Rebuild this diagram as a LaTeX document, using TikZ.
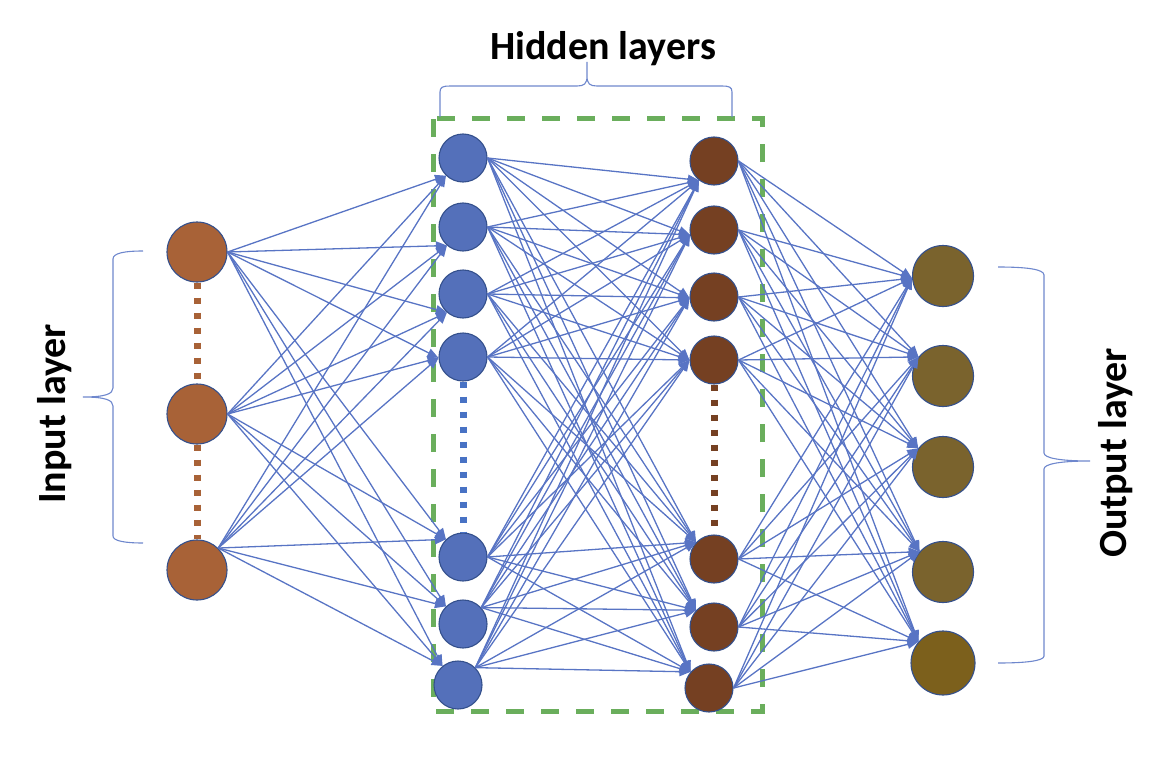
\documentclass[tikz,border=0pt]{standalone}
\usepackage{fontspec}
\setmainfont{Carlito}
\usetikzlibrary{arrows.meta}
\definecolor{inc}{RGB}{168,98,55}
\definecolor{hbc}{RGB}{84,112,186}
\definecolor{hbdot}{RGB}{72,114,196}
\definecolor{hrc}{RGB}{117,64,34}
\definecolor{outc}{RGB}{122,99,45}
\definecolor{outc2}{RGB}{124,96,28}
\definecolor{rimc}{RGB}{52,80,140}
\definecolor{edgec}{RGB}{88,116,196}
\definecolor{grn}{RGB}{106,174,92}
\definecolor{bracec}{RGB}{110,135,205}
\begin{document}
\begin{tikzpicture}[x=1pt,y=-1pt,
  neuron/.style={circle,draw=rimc,line width=1.1pt,inner sep=0pt},
  innode/.style={neuron,fill=inc,minimum size=60pt},
  hanode/.style={neuron,fill=hbc,minimum size=48pt},
  hbnode/.style={neuron,fill=hrc,minimum size=48pt},
  onode/.style={neuron,fill=outc,minimum size=61pt},
  link/.style={draw=edgec,line width=1.3pt,-{Triangle[length=11pt,width=9pt]}},
  dotline/.style={line width=7pt,dash pattern=on 6pt off 9pt},
  frame/.style={draw=grn,line width=5pt,dash pattern=on 18pt off 17pt},
  bracepath/.style={draw=bracec,line width=1.1pt},
  lbl/.style={font=\fontsize{40}{48}\selectfont\bfseries,inner sep=0pt}]
\useasboundingbox (0,0) rectangle (1153,765);

% dashed frame around hidden layers
\draw[frame] (433,119) rectangle (762,711);

% input layer
\node[innode] (in-1) at (197,252) {};
\node[innode] (in-2) at (197,414) {};
\node[innode] (in-3) at (197,570) {};

% hidden layer 1
\node[hanode] (ha-1) at (463,158) {};
\node[hanode] (ha-2) at (463,227) {};
\node[hanode] (ha-3) at (463,294) {};
\node[hanode] (ha-4) at (463,357) {};
\node[hanode] (ha-5) at (463,557) {};
\node[hanode] (ha-6) at (463,624) {};
\node[hanode] (ha-7) at (458,685) {};

% hidden layer 2
\node[hbnode] (hb-1) at (714,161) {};
\node[hbnode] (hb-2) at (714,230) {};
\node[hbnode] (hb-3) at (714,297) {};
\node[hbnode] (hb-4) at (714,360) {};
\node[hbnode] (hb-5) at (714,559) {};
\node[hbnode] (hb-6) at (714,627) {};
\node[hbnode] (hb-7) at (709,688) {};

% output layer
\node[onode] (out-1) at (943,276) {};
\node[onode] (out-2) at (943,376) {};
\node[onode] (out-3) at (943,467) {};
\node[onode] (out-4) at (943,572) {};
\node[onode,fill=outc2,minimum size=64pt] (out-5) at (943,663) {};

% dotted continuation lines
\draw[dotline,inc] (in-1.south) -- (in-2.north);
\draw[dotline,inc] (in-2.south) -- (in-3.north);
\draw[dotline,hbdot] (ha-4.south) -- (ha-5.north);
\draw[dotline,hrc] (hb-4.south) -- (hb-5.north);

% connections
\foreach \i/\ao in {1/0,2/0,3/46}
  \foreach \j/\ai in {1/226,2/229,3/229,4/182,5/134,6/134,7/129}
    \draw[link] (in-\i.\ao) -- (ha-\j.\ai);
\foreach \i/\ao in {1/0,2/0,3/0,4/0,5/0,6/42,7/45}
  \foreach \j/\ai in {1/232,2/191,3/182,4/180,5/137,6/137,7/139}
    \draw[link] (ha-\i.\ao) -- (hb-\j.\ai);
\foreach \i in {1,...,7}
  \foreach \j/\ai in {1/184,2/142,3/143,4/139,5/139}
    \draw[link] (hb-\i.0) -- (out-\j.\ai);

% braces
\draw[bracepath] (440,117) -- (440,92) .. controls (440,87) and (443,86) .. (450,86)
  -- (577,86) .. controls (584,86) and (587,84) .. (587,76) -- (587,62)
  -- (587,76) .. controls (587,84) and (590,86) .. (597,86)
  -- (722,86) .. controls (729,86) and (732,87) .. (732,92) -- (732,117);
\draw[bracepath] (143,251) .. controls (125,251) and (113,253) .. (113,259)
  -- (113,388) .. controls (113,394) and (105,397) .. (83,397)
  .. controls (105,397) and (113,400) .. (113,406)
  -- (113,536) .. controls (113,541) and (125,543) .. (143,543);
\draw[bracepath] (998,267) .. controls (1025,267) and (1044,269) .. (1044,275)
  -- (1044,453) .. controls (1044,458) and (1060,461) .. (1090,461)
  .. controls (1060,461) and (1044,464) .. (1044,469)
  -- (1044,656) .. controls (1044,661) and (1025,663) .. (998,663);

% labels
\node[lbl,anchor=base] (hidlab) at (603,60) {Hidden layers};
\node[lbl,rotate=90,anchor=base] (inlab) at (65,414) {Input layer};
\node[lbl,rotate=90,anchor=base] (outlab) at (1126,453) {Output layer};
\end{tikzpicture}
\end{document}
